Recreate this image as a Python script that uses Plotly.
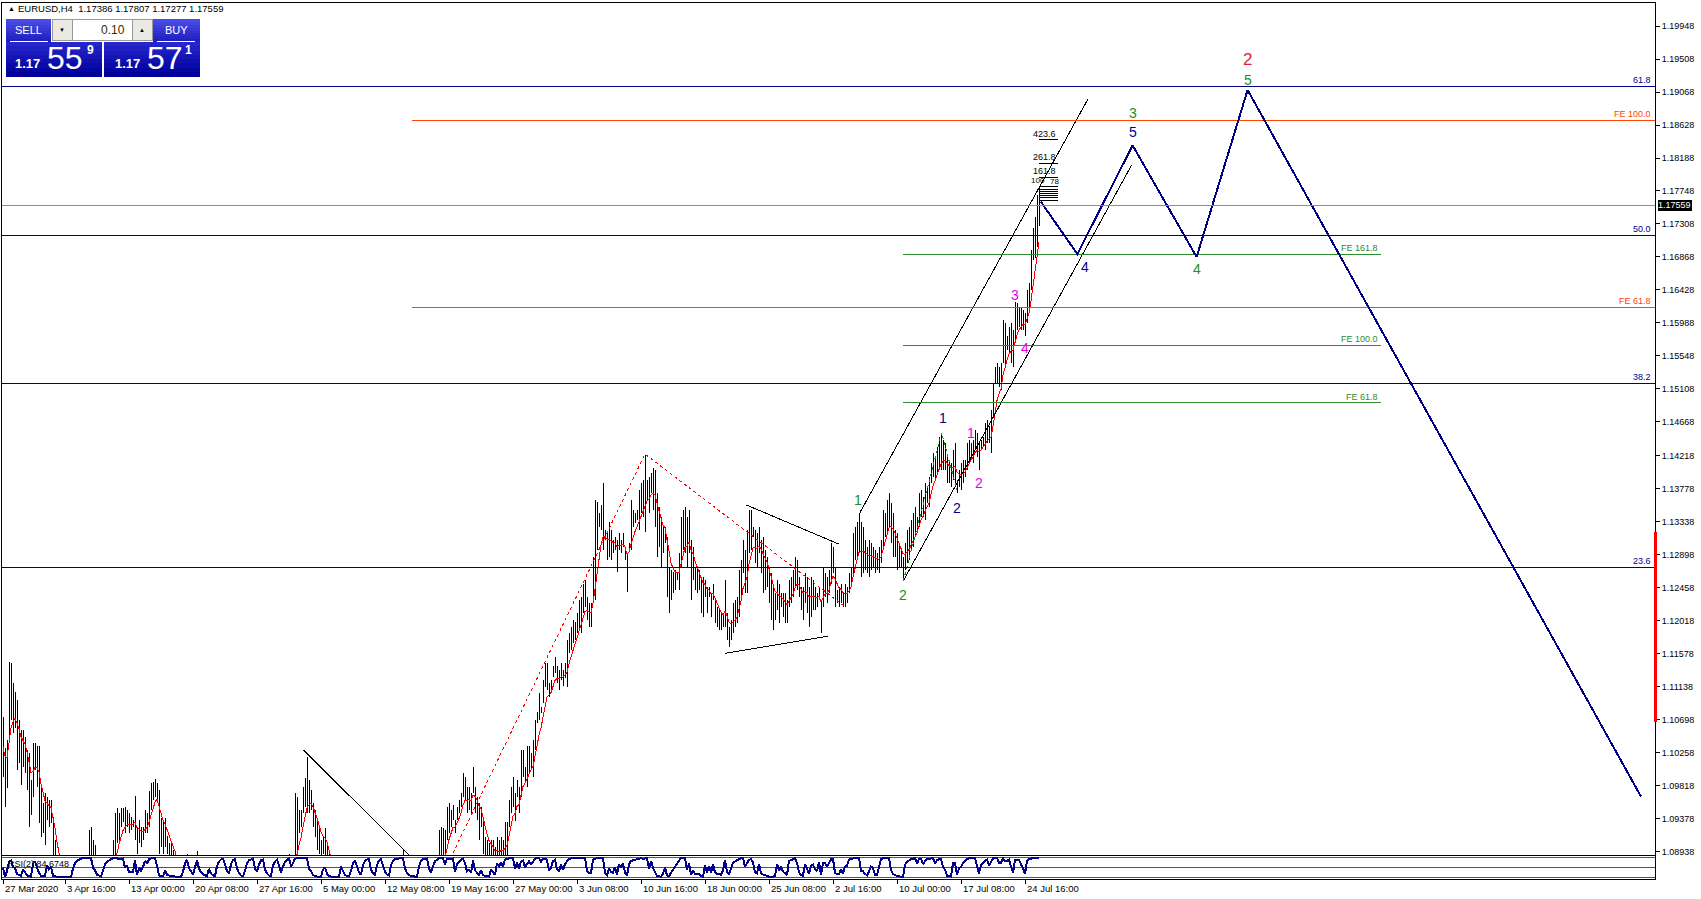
import plotly.graph_objects as go
import pandas as pd

# ---------------- DATA ----------------
bar_high = [
1.1073,1.1032,1.1043,1.1147,1.1146,1.1119,1.1107,1.1096,1.1069,1.1056,
1.1056,1.1047,1.1029,1.1025,1.0989,1.1039,1.1039,1.1034,1.1034,1.0980,
1.0959,1.0972,1.0967,1.0963,1.0963,1.0940,1.0909,1.0880,1.0870,1.0865,
1.0850,1.0840,1.0830,1.0825,1.0810,1.0820,1.0830,1.0835,1.0845,1.0850,
1.0860,1.0870,1.0880,1.0922,1.0927,1.0909,1.0903,1.0880,1.0870,1.0860,
1.0865,1.0870,1.0875,1.0880,1.0885,1.0909,1.0945,1.0952,1.0945,1.0952,
1.0952,1.0953,1.0949,1.0945,1.0940,1.0936,1.0968,1.0927,1.0936,1.0927,
1.0927,1.0949,1.0945,1.0974,1.0985,1.0987,1.0991,1.0985,1.0976,1.0938,
1.0936,1.0938,1.0914,1.0905,1.0905,1.0896,1.0894,1.0875,1.0860,1.0850,
1.0855,1.0865,1.0890,1.0870,1.0860,1.0850,1.0860,1.0894,1.0870,1.0855,
1.0845,1.0835,1.0825,1.0830,1.0820,1.0810,1.0800,1.0810,1.0825,1.0840,
1.0850,1.0845,1.0835,1.0830,1.0840,1.0855,1.0860,1.0850,1.0840,1.0825,
1.0815,1.0820,1.0830,1.0845,1.0855,1.0860,1.0850,1.0845,1.0855,1.0865,
1.0870,1.0860,1.0850,1.0840,1.0835,1.0845,1.0855,1.0865,1.0860,1.0850,
1.0855,1.0865,1.0875,1.0890,1.0880,1.0885,1.0972,1.0967,1.0949,1.0949,
1.0980,1.0992,1.1020,1.0989,1.0976,1.0959,1.0949,1.0936,1.0927,1.0909,
1.0914,1.0925,1.0905,1.0890,1.0875,1.0860,1.0850,1.0840,1.0835,1.0845,
1.0840,1.0825,1.0810,1.0800,1.0805,1.0815,1.0825,1.0820,1.0810,1.0800,
1.0810,1.0825,1.0835,1.0840,1.0830,1.0820,1.0815,1.0825,1.0840,1.0850,
1.0845,1.0835,1.0825,1.0820,1.0830,1.0845,1.0855,1.0860,1.0870,1.0880,
1.0897,1.0880,1.0865,1.0850,1.0840,1.0830,1.0820,1.0815,1.0825,1.0840,
1.0855,1.0865,1.0870,1.0860,1.0850,1.0860,1.0870,1.0880,1.0923,1.0927,
1.0925,1.0922,1.0953,1.0959,1.0949,1.0956,1.0936,1.0953,1.0963,1.0972,
1.0999,1.0993,1.0980,1.0980,1.0972,1.1007,1.0980,1.0967,1.0959,1.0953,
1.0936,1.0913,1.0909,1.0905,1.0909,1.0909,1.0900,1.0913,1.0909,1.0913,
1.0909,1.0933,1.0933,1.0963,1.0980,1.0993,1.0972,1.0989,1.0980,1.1029,
1.1029,1.1007,1.1034,1.1034,1.1025,1.1043,1.1069,1.1080,1.1105,1.1087,
1.1123,1.1145,1.1145,1.1119,1.1123,1.1141,1.1154,1.1141,1.1136,1.1145,
1.1136,1.1145,1.1176,1.1185,1.1193,1.1203,1.1200,1.1212,1.1229,1.1233,
1.1251,1.1256,1.1233,1.1225,1.1225,1.1287,1.1363,1.1360,1.1345,1.1356,
1.1385,1.1323,1.1319,1.1333,1.1323,1.1309,1.1313,1.1309,1.1319,1.1309,
1.1319,1.1296,1.1292,1.1305,1.1363,1.1349,1.1345,1.1349,1.1376,1.1385,
1.1389,1.1423,1.1389,1.1394,1.1399,1.1405,1.1403,1.1372,1.1353,1.1340,
1.1327,1.1327,1.1313,1.1273,1.1269,1.1267,1.1269,1.1265,1.1292,1.1340,
1.1349,1.1353,1.1340,1.1349,1.1309,1.1300,1.1273,1.1273,1.1269,1.1260,
1.1260,1.1256,1.1247,1.1247,1.1239,1.1251,1.1229,1.1220,1.1216,1.1212,
1.1212,1.1256,1.1212,1.1193,1.1203,1.1225,1.1229,1.1233,1.1269,1.1283,
1.1309,1.1296,1.1323,1.1349,1.1349,1.1327,1.1323,1.1319,1.1327,1.1309,
1.1313,1.1296,1.1287,1.1273,1.1265,1.1251,1.1239,1.1256,1.1251,1.1239,
1.1239,1.1239,1.1229,1.1256,1.1260,1.1269,1.1287,1.1283,1.1260,1.1247,
1.1247,1.1265,1.1260,1.1247,1.1260,1.1256,1.1247,1.1239,1.1247,1.1229,
1.1273,1.1265,1.1260,1.1269,1.1305,1.1300,1.1273,1.1243,1.1247,1.1251,
1.1239,1.1251,1.1247,1.1265,1.1273,1.1319,1.1327,1.1333,1.1345,1.1333,
1.1327,1.1309,1.1300,1.1309,1.1305,1.1300,1.1296,1.1292,1.1300,1.1309,
1.1349,1.1345,1.1363,1.1372,1.1359,1.1345,1.1323,1.1319,1.1305,1.1296,
1.1287,1.1305,1.1323,1.1327,1.1336,1.1345,1.1353,1.1340,1.1372,1.1376,
1.1367,1.1385,1.1380,1.1394,1.1412,1.1425,1.1420,1.1434,1.1447,1.1452,
1.1443,1.1439,1.1420,1.1416,1.1412,1.1429,1.1439,1.1389,1.1403,1.1412,
1.1416,1.1416,1.1439,1.1443,1.1439,1.1443,1.1456,1.1452,1.1439,1.1443,
1.1447,1.1465,1.1469,1.1461,1.1483,1.1519,1.1540,1.1545,1.1540,1.1545,
1.1603,1.1599,1.1581,1.1594,1.1599,1.1589,1.1627,1.1625,1.1620,1.1620,
1.1616,1.1612,1.1643,1.1652,1.1696,1.1725,1.1740,1.1770,1.17807]

bar_low = [
1.0993,1.0953,1.0979,1.1039,1.1069,1.1052,1.1059,1.1003,1.1012,1.0983,
1.1007,1.0999,1.0976,1.0927,1.0943,1.0967,1.1003,1.0980,1.0932,1.0913,
1.0918,1.0902,1.0936,1.0927,1.0932,1.0880,1.0865,1.0840,1.0830,1.0820,
1.0810,1.0800,1.0790,1.0785,1.0780,1.0785,1.0790,1.0800,1.0805,1.0815,
1.0825,1.0830,1.0840,1.0860,1.0870,1.0860,1.0855,1.0840,1.0830,1.0820,
1.0825,1.0835,1.0840,1.0845,1.0850,1.0860,1.0880,1.0905,1.0909,1.0927,
1.0933,1.0918,1.0927,1.0918,1.0923,1.0927,1.0909,1.0890,1.0905,1.0900,
1.0909,1.0918,1.0918,1.0927,1.0949,1.0963,1.0967,1.0963,1.0890,1.0900,
1.0890,1.0900,1.0890,1.0885,1.0880,1.0870,1.0860,1.0835,1.0820,1.0810,
1.0815,1.0830,1.0845,1.0835,1.0825,1.0810,1.0820,1.0840,1.0830,1.0815,
1.0800,1.0790,1.0780,1.0790,1.0775,1.0765,1.0755,1.0770,1.0785,1.0800,
1.0810,1.0805,1.0795,1.0790,1.0800,1.0815,1.0825,1.0815,1.0800,1.0785,
1.0775,1.0780,1.0795,1.0805,1.0820,1.0825,1.0815,1.0810,1.0815,1.0830,
1.0835,1.0825,1.0815,1.0805,1.0800,1.0810,1.0820,1.0830,1.0825,1.0815,
1.0820,1.0830,1.0840,1.0850,1.0845,1.0850,1.0870,1.0880,1.0918,1.0927,
1.0945,1.0953,1.0945,1.0945,1.0949,1.0927,1.0913,1.0896,1.0890,1.0880,
1.0891,1.0885,1.0880,1.0860,1.0835,1.0820,1.0805,1.0795,1.0790,1.0800,
1.0795,1.0780,1.0770,1.0760,1.0765,1.0775,1.0785,1.0780,1.0770,1.0765,
1.0775,1.0785,1.0795,1.0800,1.0790,1.0780,1.0775,1.0785,1.0800,1.0810,
1.0805,1.0795,1.0785,1.0780,1.0790,1.0805,1.0815,1.0825,1.0830,1.0840,
1.0850,1.0840,1.0825,1.0810,1.0800,1.0790,1.0780,1.0775,1.0785,1.0800,
1.0815,1.0830,1.0835,1.0825,1.0815,1.0820,1.0835,1.0845,1.0865,1.0870,
1.0880,1.0875,1.0909,1.0918,1.0927,1.0936,1.0918,1.0936,1.0945,1.0953,
1.0967,1.0963,1.0945,1.0949,1.0945,1.0972,1.0945,1.0936,1.0909,1.0927,
1.0890,1.0880,1.0875,1.0870,1.0875,1.0870,1.0868,1.0875,1.0875,1.0880,
1.0880,1.0885,1.0889,1.0927,1.0945,1.0953,1.0934,1.0967,1.0945,1.0967,
1.0993,1.0985,1.0980,1.0999,1.1003,1.0993,1.1029,1.1065,1.1069,1.1079,
1.1092,1.1113,1.1109,1.1100,1.1105,1.1127,1.1132,1.1119,1.1110,1.1123,
1.1115,1.1125,1.1113,1.1159,1.1163,1.1172,1.1176,1.1185,1.1189,1.1185,
1.1212,1.1220,1.1203,1.1193,1.1193,1.1225,1.1229,1.1296,1.1327,1.1323,
1.1296,1.1309,1.1283,1.1287,1.1283,1.1292,1.1296,1.1267,1.1296,1.1292,
1.1300,1.1283,1.1240,1.1296,1.1296,1.1327,1.1332,1.1336,1.1323,1.1345,
1.1340,1.1320,1.1363,1.1345,1.1372,1.1349,1.1327,1.1287,1.1300,1.1273,
1.1292,1.1305,1.1233,1.1212,1.1229,1.1239,1.1243,1.1256,1.1243,1.1273,
1.1296,1.1292,1.1273,1.1292,1.1229,1.1256,1.1243,1.1239,1.1243,1.1212,
1.1207,1.1233,1.1212,1.1233,1.1207,1.1229,1.1199,1.1193,1.1189,1.1189,
1.1193,1.1193,1.1176,1.1167,1.1176,1.1185,1.1193,1.1199,1.1207,1.1233,
1.1265,1.1239,1.1239,1.1292,1.1296,1.1313,1.1279,1.1273,1.1292,1.1265,
1.1239,1.1243,1.1247,1.1225,1.1203,1.1189,1.1203,1.1216,1.1199,1.1220,
1.1207,1.1199,1.1199,1.1220,1.1225,1.1233,1.1247,1.1243,1.1233,1.1216,
1.1203,1.1225,1.1212,1.1193,1.1207,1.1216,1.1216,1.1220,1.1229,1.1185,
1.1220,1.1233,1.1225,1.1239,1.1251,1.1265,1.1220,1.1225,1.1220,1.1225,
1.1220,1.1220,1.1225,1.1239,1.1247,1.1265,1.1283,1.1283,1.1292,1.1260,
1.1265,1.1269,1.1265,1.1260,1.1269,1.1273,1.1265,1.1269,1.1265,1.1279,
1.1296,1.1313,1.1319,1.1327,1.1305,1.1287,1.1287,1.1269,1.1273,1.1273,
1.1256,1.1269,1.1279,1.1283,1.1296,1.1300,1.1313,1.1319,1.1327,1.1340,
1.1340,1.1336,1.1359,1.1353,1.1385,1.1394,1.1389,1.1399,1.1403,1.1403,
1.1403,1.1403,1.1385,1.1385,1.1380,1.1389,1.1380,1.1372,1.1380,1.1376,
1.1385,1.1394,1.1403,1.1412,1.1416,1.1412,1.1429,1.1420,1.1403,1.1429,
1.1434,1.1429,1.1439,1.1439,1.1425,1.1474,1.1519,1.1519,1.1514,1.1509,
1.1545,1.1540,1.1563,1.1559,1.1545,1.1540,1.1576,1.1589,1.1594,1.1589,
1.1589,1.1581,1.1599,1.1616,1.1643,1.1683,1.1686,1.1700,1.17277]

bar_index = list(range(len(bar_high)))

time_tick_bars = [0, 31, 63, 95, 127, 159, 191, 223, 255, 287, 319, 351, 383, 415, 447, 479, 511]
time_tick_labels = ["27 Mar 2020", "3 Apr 16:00", "13 Apr 00:00", "20 Apr 08:00", "27 Apr 16:00",
                    "5 May 00:00", "12 May 08:00", "19 May 16:00", "27 May 00:00", "3 Jun 08:00",
                    "10 Jun 16:00", "18 Jun 00:00", "25 Jun 08:00", "2 Jul 16:00", "10 Jul 00:00",
                    "17 Jul 08:00", "24 Jul 16:00"]

price_tick_labels = ["1.19948", "1.19508", "1.19068", "1.18628", "1.18188", "1.17748", "1.17308",
                     "1.16868", "1.16428", "1.15988", "1.15548", "1.15108", "1.14668", "1.14218",
                     "1.13778", "1.13338", "1.12898", "1.12458", "1.12018", "1.11578", "1.11138",
                     "1.10698", "1.10258", "1.09818", "1.09378", "1.08938"]

symbol_header = "EURUSD,H4  1.17386 1.17807 1.17277 1.17559"
current_price = 1.17559
lot_size = "0.10"
sell_price = ["1.17", "55", "9"]
buy_price = ["1.17", "57", "1"]

fib_ret_labels = ["61.8", "50.0", "38.2", "23.6"]
fib_ret_prices = [1.19148, 1.17161, 1.15183, 1.12729]

fe_orange_labels = ["FE 100.0", "FE 61.8"]
fe_orange_prices = [1.18690, 1.16197]
fe_orange_start_bar = 204.5

fe_green_labels = ["FE 161.8", "FE 100.0", "FE 61.8"]
fe_green_prices = [1.16907, 1.15694, 1.14927]
fe_green_bars = [450.0, 689.0]

proj_bars = [518.9, 537.2, 564.8, 596.8, 622.3, 819.0]
proj_prices = [1.17605, 1.16907, 1.18356, 1.16868, 1.19095, 1.09673]

channel_upper_bars = [428.5, 542.5]
channel_upper_prices = [1.13461, 1.18975]
channel_lower_bars = [450.2, 564.3]
channel_lower_prices = [1.12551, 1.18094]
tri_upper_bars = [371.8, 418.2]
tri_upper_prices = [1.13560, 1.13036]
tri_lower_bars = [361.0, 412.7]
tri_lower_prices = [1.11582, 1.11813]
down_line_bars = [150.2, 210.0]
down_line_prices = [1.10293, 1.08710]
red_dash_bars = [225.0, 321.0, 421.0]
red_dash_prices = [1.08919, 1.14240, 1.12204]
green_dot_bars = [450.2, 469.3, 477.0]
green_dot_prices = [1.12550, 1.14520, 1.13760]

fibx_levels = [0, 23.6, 38.2, 50, 61.8, 78.6, 100, 161.8, 261.8, 423.6]
fibx_base = 1.17620
fibx_range = 0.00191
fibx_bars = [518.2, 527.7]
fibx_label_levels = [423.6, 261.8, 161.8]
fibx_small_labels = ["100", "78"]

wave_text = ["1", "2", "1", "2", "1", "2", "3", "4", "4", "5", "3", "4", "5", "2"]
wave_bars = [427.7, 449.9, 470.2, 476.9, 483.9, 488.0, 506.0, 511.0, 541.0, 564.8, 564.8, 596.8, 622.3, 622.3]
wave_prices = [1.13627, 1.12360, 1.14717, 1.13517, 1.14525, 1.13850, 1.16361, 1.15650,
               1.16734, 1.18531, 1.18791, 1.16708, 1.19224, 1.19499]
wave_degree = ["minor", "minor", "minute", "minute", "minuette", "minuette", "minuette", "minuette",
               "minute", "minute", "minor", "minor", "minor", "intermediate"]

range_bar_prices = [1.10666, 1.13204]
rsi_label = "RSI(2) 84.6748"

# ---------------- STYLE ----------------
FONT = "Liberation Sans"
NAVY = "#00008B"
ORANGE = "#FF4500"
GREEN = "#1E8C1E"
MAGENTA = "#E600E6"
CRIMSON = "#E8193C"
degree_color = {"minor": GREEN, "minute": NAVY, "minuette": MAGENTA, "intermediate": CRIMSON}
degree_size = {"minor": 14, "minute": 14, "minuette": 14, "intermediate": 17}

W, H = 1701, 899
PL, PR, PT, PB = 2, 1655, 3, 879
MAIN_BOTTOM = 855
RSI_TOP = 856
X_RANGE = [-0.5, 826.0]


def pxx(x):
    return (x - PL) / (PR - PL)


def pxy(y):
    return (PB - y) / (PB - PT)


# indicators computed from the bar data (median price)
median = pd.Series([(h + l) / 2 for h, l in zip(bar_high, bar_low)])
ma = median.ewm(span=6, adjust=False).mean()
delta = median.diff()
gain = delta.clip(lower=0).ewm(alpha=0.5, adjust=False).mean()
loss = (-delta.clip(upper=0)).ewm(alpha=0.5, adjust=False).mean()
rsi = (100 - 100 / (1 + gain / loss.replace(0, 1e-9))).fillna(50)

fig = go.Figure()

# price bars
bx, by = [], []
for i, h, l in zip(bar_index, bar_high, bar_low):
    bx += [i, i, None]
    by += [l, h, None]
fig.add_trace(go.Scatter(x=bx, y=by, mode="lines", line=dict(color="black", width=1),
                         hoverinfo="skip", xaxis="x", yaxis="y"))

# moving average
fig.add_trace(go.Scatter(x=bar_index, y=ma, mode="lines", line=dict(color="#FF0000", width=1),
                         xaxis="x", yaxis="y"))


def seg(xs, ys, color, width=1, dash="solid"):
    fig.add_trace(go.Scatter(x=xs, y=ys, mode="lines", line=dict(color=color, width=width, dash=dash),
                             xaxis="x", yaxis="y", hoverinfo="skip"))


seg(channel_upper_bars, channel_upper_prices, "black")
seg(channel_lower_bars, channel_lower_prices, "black")
seg(tri_upper_bars, tri_upper_prices, "black")
seg(tri_lower_bars, tri_lower_prices, "black")
seg(down_line_bars, down_line_prices, "black")
seg(red_dash_bars, red_dash_prices, "#FF0000", 1, "dot")
seg(green_dot_bars, green_dot_prices, GREEN, 1, "dot")

for p in fe_green_prices:
    seg(fe_green_bars, [p, p], "#2E8B2E")
for p in fe_orange_prices:
    seg([fe_orange_start_bar, X_RANGE[1]], [p, p], ORANGE)
for lv in fibx_levels:
    p = fibx_base + fibx_range * lv / 100
    seg(fibx_bars, [p, p], "black")

seg(proj_bars, proj_prices, "#000080", 2)

shapes = []
annotations = []

for p in fib_ret_prices:
    shapes.append(dict(type="line", xref="x", yref="y", x0=X_RANGE[0], x1=X_RANGE[1], y0=p, y1=p,
                       line=dict(color=NAVY, width=1), layer="above"))
shapes.append(dict(type="line", xref="x", yref="y", x0=X_RANGE[0], x1=X_RANGE[1], y0=current_price,
                   y1=current_price, line=dict(color="#8A8F98", width=1), layer="above"))

for lab, p in zip(fib_ret_labels, fib_ret_prices):
    annotations.append(dict(xref="x", yref="y", x=X_RANGE[1], y=p, text=lab, showarrow=False,
                            xanchor="right", yanchor="bottom", xshift=-2, yshift=-1,
                            font=dict(family=FONT, size=9, color=NAVY)))
for lab, p in zip(fe_orange_labels, fe_orange_prices):
    annotations.append(dict(xref="x", yref="y", x=X_RANGE[1], y=p, text=lab, showarrow=False,
                            xanchor="right", yanchor="bottom", xshift=-2, yshift=-1,
                            font=dict(family=FONT, size=9, color=ORANGE)))
for lab, p in zip(fe_green_labels, fe_green_prices):
    annotations.append(dict(xref="x", yref="y", x=fe_green_bars[1], y=p, text=lab, showarrow=False,
                            xanchor="right", yanchor="bottom", xshift=-1, yshift=-1,
                            font=dict(family=FONT, size=9, color="#2E8B2E")))
for lv in fibx_label_levels:
    p = fibx_base + fibx_range * lv / 100
    annotations.append(dict(xref="x", yref="y", x=fibx_bars[1], y=p, text=f"{lv:.1f}", showarrow=False,
                            xanchor="right", yanchor="bottom", yshift=-1,
                            font=dict(family=FONT, size=9, color="black")))
p100 = fibx_base + fibx_range
annotations.append(dict(xref="x", yref="y", x=fibx_bars[0] + 4.0, y=p100, text=fibx_small_labels[0],
                        showarrow=False, xanchor="right", yanchor="bottom", yshift=-1,
                        font=dict(family=FONT, size=8, color="black")))
annotations.append(dict(xref="x", yref="y", x=fibx_bars[0] + 4.5, y=p100, text=fibx_small_labels[1],
                        showarrow=False, xanchor="left", yanchor="bottom", yshift=-2,
                        font=dict(family=FONT, size=8, color="black")))

for t, x, y, d in zip(wave_text, wave_bars, wave_prices, wave_degree):
    annotations.append(dict(xref="x", yref="y", x=x, y=y, text=t, showarrow=False,
                            xanchor="center", yanchor="middle",
                            font=dict(family=FONT, size=degree_size[d], color=degree_color[d])))

annotations.append(dict(xref="paper", yref="y", x=1, y=current_price, text="1.17559", showarrow=False,
                        xanchor="left", yanchor="middle", xshift=2, bgcolor="black", borderpad=0,
                        font=dict(family=FONT, size=9, color="white")))
shapes.append(dict(type="rect", xref="paper", yref="y", x0=pxx(1653.5), x1=pxx(1656.5),
                   y0=range_bar_prices[0], y1=range_bar_prices[1], fillcolor="#FF0000",
                   line=dict(width=0), layer="above"))

rsi_levels = [100, 50, 0]
for lv in rsi_levels:
    shapes.append(dict(type="line", xref="x2", yref="y2", x0=X_RANGE[0], x1=X_RANGE[1], y0=lv, y1=lv,
                       line=dict(color="#DC143C", width=1), layer="below"))
fig.add_trace(go.Scatter(x=bar_index, y=rsi, mode="lines", line=dict(color="#00008B", width=2),
                         xaxis="x2", yaxis="y2"))
annotations.append(dict(xref="paper", yref="paper", x=pxx(6), y=pxy(RSI_TOP + 1), text=rsi_label,
                        showarrow=False, xanchor="left", yanchor="top",
                        font=dict(family=FONT, size=9, color="black")))

for b, lab in zip(time_tick_bars, time_tick_labels):
    annotations.append(dict(xref="x2", yref="paper", x=b, y=0, text=lab, showarrow=False,
                            xanchor="left", yanchor="top", xshift=0, yshift=-2,
                            font=dict(family=FONT, size=9.5, color="black")))


# ---------- one-click trading panel ----------
def box(x0, y0, x1, y1, fill, line_color=None, lw=0):
    shapes.append(dict(type="rect", xref="paper", yref="paper", x0=pxx(x0), x1=pxx(x1),
                       y0=pxy(y1), y1=pxy(y0), fillcolor=fill,
                       line=dict(color=line_color or fill, width=lw), layer="above"))


def grad_box(x0, y0, x1, y1, c0, c1, n=8):
    def hx(c):
        return [int(c[i:i + 2], 16) for i in (1, 3, 5)]
    a, b = hx(c0), hx(c1)
    step = (y1 - y0) / n
    for k in range(n):
        t = k / (n - 1)
        col = "#%02x%02x%02x" % tuple(int(a[j] + (b[j] - a[j]) * t) for j in range(3))
        box(x0, y0 + k * step, x1, y0 + (k + 1) * step + 0.5, col)


def text(x, y, s, size, color="white", anchor="center", bold=False, yanchor="middle"):
    annotations.append(dict(xref="paper", yref="paper", x=pxx(x), y=pxy(y),
                            text=f"<b>{s}</b>" if bold else s, showarrow=False,
                            xanchor=anchor, yanchor=yanchor,
                            font=dict(family=FONT, size=size, color=color)))


text(6, 8.5, "▲", 7, "black", "left")
text(16, 8.5, symbol_header, 9.5, "black", "left")
grad_box(6, 19, 51, 42, "#4a4ae8", "#2020c0")
grad_box(153, 19, 200, 42, "#4a4ae8", "#2020c0")
grad_box(6, 42, 102, 76, "#2626cc", "#00009a")
grad_box(104, 42, 200, 76, "#2626cc", "#00009a")
box(52.5, 19.5, 72, 40.5, "#ECE9E2", "#9a9a9a", 1)
box(72.5, 19.5, 132, 40.5, "white", "#9a9a9a", 1)
box(132.5, 19.5, 152, 40.5, "#ECE9E2", "#9a9a9a", 1)
shapes.append(dict(type="line", xref="paper", yref="paper", x0=pxx(10), x1=pxx(48), y0=pxy(41.7), y1=pxy(41.7),
                   line=dict(color="white", width=1), layer="above"))
shapes.append(dict(type="line", xref="paper", yref="paper", x0=pxx(157), x1=pxx(195), y0=pxy(41.7), y1=pxy(41.7),
                   line=dict(color="white", width=1), layer="above"))
text(28, 30, "SELL", 11)
text(176, 30, "BUY", 11)
text(62, 30, "▼", 6, "black")
text(142, 30, "▲", 6, "black")
text(127, 30, lot_size, 12, "#3a2a00", "right")
text(42, 64, sell_price[0], 13, anchor="right", bold=True)
text(45, 58, sell_price[1], 32, anchor="left")
text(85, 50, sell_price[2], 12, anchor="left", bold=True)
text(142, 64, buy_price[0], 13, anchor="right", bold=True)
text(145, 58, buy_price[1], 32, anchor="left")
text(183, 50, buy_price[2], 12, anchor="left", bold=True)

main_bottom_frac = pxy(MAIN_BOTTOM)
fig.update_layout(
    width=W, height=H, margin=dict(l=PL, r=W - PR, t=PT, b=H - PB),
    paper_bgcolor="white", plot_bgcolor="white", showlegend=False,
    shapes=shapes, annotations=annotations,
    xaxis=dict(domain=[0, 1], range=X_RANGE, anchor="y", showgrid=False, zeroline=False,
               showticklabels=False, showline=True, mirror=True, linecolor="black", linewidth=1),
    yaxis=dict(domain=[main_bottom_frac, 1], range=[1.08893, 1.20255], side="right", anchor="x",
               tickvals=[float(s) for s in price_tick_labels], ticktext=price_tick_labels,
               ticks="outside", ticklen=4, tickcolor="black", showgrid=False, zeroline=False,
               showline=True, mirror=True, linecolor="black", linewidth=1,
               tickfont=dict(family=FONT, size=9, color="black")),
    xaxis2=dict(domain=[0, 1], range=X_RANGE, anchor="y2", showgrid=False, zeroline=False,
                tickvals=time_tick_bars, ticks="outside", ticklen=4, tickcolor="black",
                showticklabels=False, showline=True, mirror=True, linecolor="black", linewidth=1),
    yaxis2=dict(domain=[0, pxy(RSI_TOP)], range=[-10, 110], side="right", anchor="x2",
                showticklabels=False, showgrid=False, zeroline=False,
                showline=True, mirror=True, linecolor="black", linewidth=1),
)

page_fix = ("document.body.style.margin='0';document.body.style.overflow='hidden';"
            "document.querySelectorAll('.main-svg').forEach(function(s){s.style.shapeRendering='crispEdges';});")
fig.write_html("out.html", post_script=page_fix, config={"displayModeBar": False, "staticPlot": True})
